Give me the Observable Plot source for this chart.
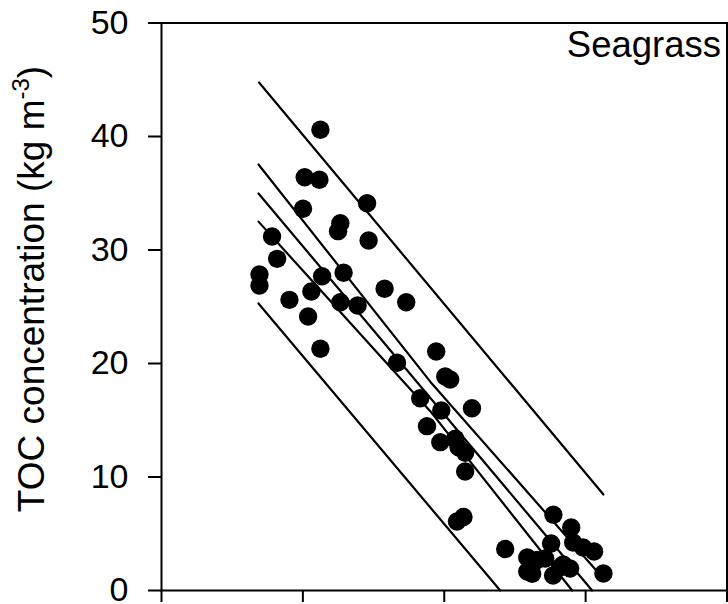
<!DOCTYPE html>
<html>
<head>
<meta charset="utf-8">
<script src="https://cdn.jsdelivr.net/npm/d3@7"></script>
<script src="https://cdn.jsdelivr.net/npm/@observablehq/plot@0.6"></script>
<style>
  html, body { margin: 0; padding: 0; background: #ffffff; }
  #chart { width: 728px; height: 604px; }
</style>
</head>
<body>
<div id="chart"></div>
<script>
// Data
const xTicks = [0, 1, 2, 3, 4];
const yTicks = [0, 10, 20, 30, 40, 50];
const panelLabel = "Seagrass";

const pointX = [1.124, 1.013, 1.117, 1.001, 1.454, 1.265, 1.249, 1.465, 0.782, 0.818,
  0.693, 0.693, 1.136, 1.288, 0.905, 1.060, 1.265, 1.387, 1.578, 1.731,
  1.037, 1.124, 1.666, 1.943, 2.007, 2.042, 1.830, 1.979, 2.196, 1.878,
  1.972, 2.078, 2.101, 2.148, 2.148, 2.090, 2.136, 2.431, 2.587, 2.657,
  2.714, 2.587, 2.622, 2.772, 2.898, 2.756, 2.912, 2.982, 3.060, 2.841,
  2.890, 2.770, 3.126, 2.820];
const pointY = [40.59, 36.41, 36.19, 33.63, 34.12, 32.36, 31.66, 30.84, 31.19, 29.22,
  27.84, 26.87, 27.69, 27.99, 25.61, 26.34, 25.40, 25.11, 26.58, 25.40,
  24.14, 21.30, 20.06, 21.06, 18.85, 18.59, 16.94, 15.86, 16.06, 14.48,
  13.07, 13.37, 12.63, 12.13, 10.48, 6.08, 6.48, 3.66, 2.91, 2.69,
  2.82, 1.67, 1.47, 6.67, 5.55, 4.14, 4.23, 3.79, 3.44, 2.29,
  1.94, 1.32, 1.50, 2.05];

// Regression line with confidence and prediction bands
const lineNames = ["upper prediction", "upper confidence", "regression", "lower confidence", "lower prediction"];
const lineX = [
  [0.690, 3.126],
  [0.686, 1.901, 3.130],
  [0.686, 3.046],
  [0.686, 1.901, 2.905],
  [0.686, 2.396]
];
const lineY = [
  [44.76, 8.46],
  [37.53, 18.40, 1.00],
  [34.98, 0.00],
  [32.50, 15.80, 0.00],
  [25.29, 0.00]
];

const points = pointX.map((x, i) => ({x, y: pointY[i]}));
const lines = lineNames.flatMap((name, k) =>
  lineX[k].map((x, j) => ({name, x, y: lineY[k][j]})));

const font = "Arial, 'Liberation Sans', Helvetica, sans-serif";

const chart = Plot.plot({
  width: 728,
  height: 604,
  marginLeft: 161,
  marginRight: 1.5,
  marginTop: 22.5,
  marginBottom: 14,
  style: {fontFamily: font, fontSize: "34px", background: "#ffffff", color: "#000000"},
  x: {domain: [0, 4]},
  y: {domain: [0, 50]},
  marks: [
    Plot.frame({stroke: "#000", strokeWidth: 2}),
    Plot.axisY({ticks: yTicks, tickSize: 13, tickPadding: 20, label: null,
      strokeWidth: 2, fontSize: 34, fill: "#000"}),
    Plot.axisX({ticks: xTicks, tickSize: 12, tickFormat: () => "", label: null,
      strokeWidth: 2}),
    Plot.line(lines, {x: "x", y: "y", z: "name", stroke: "#000", strokeWidth: 2.2}),
    Plot.dot(points, {x: "x", y: "y", r: 9.2, fill: "#000", stroke: "none"}),
    Plot.text([panelLabel], {frameAnchor: "top-right", textAnchor: "end", lineAnchor: "top",
      dx: -6, dy: 8, fontSize: 36.5, fill: "#000"})
  ]
});

document.getElementById("chart").appendChild(chart);

// Y axis title with superscript
const svg = d3.select(chart);
const t = svg.append("text")
  .attr("transform", "translate(44,289) rotate(-90)")
  .attr("text-anchor", "middle")
  .attr("font-family", font)
  .attr("font-size", 37)
  .attr("fill", "#000");
t.append("tspan").text("TOC concentration (kg m");
t.append("tspan").attr("font-size", 24).attr("dy", -15).text("-3");
t.append("tspan").attr("dy", 15).text(")");
</script>
</body>
</html>
